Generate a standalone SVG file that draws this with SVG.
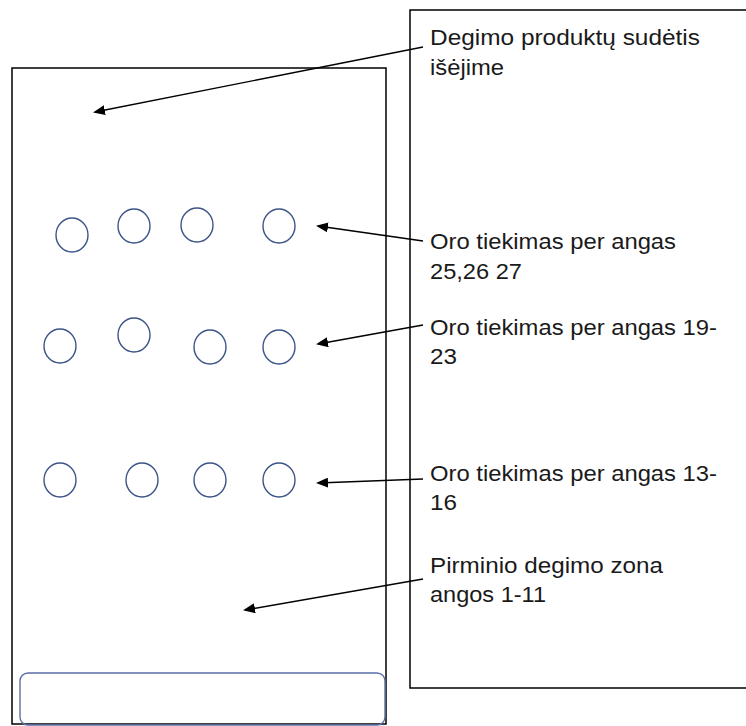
<svg xmlns="http://www.w3.org/2000/svg" width="746" height="726" viewBox="0 0 746 726">
<style>
.box{fill:none;stroke:#000;stroke-width:1.5}
.hole{fill:none;stroke:#3c5488;stroke-width:1.4}
.tray{fill:none;stroke:#5b6fa6;stroke-width:1.4}
.lbl{font-family:"Liberation Sans",Arial,sans-serif;font-size:22px;fill:#1a1a1a}
.con{stroke:#000;stroke-width:1.4;fill:none;marker-end:url(#ah)}
</style>
<defs>
<marker id="ah" markerWidth="12" markerHeight="10" refX="10" refY="5" orient="auto" markerUnits="userSpaceOnUse">
<path d="M0,0 L12,5 L0,10 Z" fill="#000"/>
</marker>
</defs>
<rect width="746" height="726" fill="#fff"/>
<g id="chamber">
<rect class="box" x="12" y="68" width="374" height="656"/>
<rect class="tray" x="20" y="673" width="365" height="52" rx="8"/>
</g>
<g id="holes-row1">
<ellipse class="hole" cx="72" cy="235" rx="16" ry="17"/>
<ellipse class="hole" cx="134" cy="226" rx="16" ry="17"/>
<ellipse class="hole" cx="197" cy="225" rx="16" ry="17"/>
<ellipse class="hole" cx="279" cy="226" rx="16" ry="17"/>
</g>
<g id="holes-row2">
<ellipse class="hole" cx="60" cy="346" rx="16" ry="17"/>
<ellipse class="hole" cx="134" cy="335" rx="16" ry="17"/>
<ellipse class="hole" cx="210" cy="347" rx="16" ry="17"/>
<ellipse class="hole" cx="279" cy="347" rx="16" ry="17"/>
</g>
<g id="holes-row3">
<ellipse class="hole" cx="60" cy="480" rx="16" ry="17"/>
<ellipse class="hole" cx="142" cy="480" rx="16" ry="17"/>
<ellipse class="hole" cx="210" cy="480" rx="16" ry="17"/>
<ellipse class="hole" cx="279" cy="480" rx="16" ry="17"/>
</g>
<g id="legend">
<rect class="box" x="410" y="10" width="345" height="678"/>
<text class="lbl" x="430" y="45" textLength="270" lengthAdjust="spacingAndGlyphs">Degimo produktų sudėtis</text>
<text class="lbl" x="430" y="75" textLength="74" lengthAdjust="spacingAndGlyphs">išėjime</text>
<text class="lbl" x="430" y="249" textLength="246" lengthAdjust="spacingAndGlyphs">Oro tiekimas per angas</text>
<text class="lbl" x="430" y="279" textLength="92" lengthAdjust="spacingAndGlyphs">25,26 27</text>
<text class="lbl" x="430" y="335" textLength="287" lengthAdjust="spacingAndGlyphs">Oro tiekimas per angas 19-</text>
<text class="lbl" x="430" y="364" textLength="27" lengthAdjust="spacingAndGlyphs">23</text>
<text class="lbl" x="430" y="481" textLength="287" lengthAdjust="spacingAndGlyphs">Oro tiekimas per angas 13-</text>
<text class="lbl" x="430" y="510" textLength="27" lengthAdjust="spacingAndGlyphs">16</text>
<text class="lbl" x="430" y="573" textLength="233" lengthAdjust="spacingAndGlyphs">Pirminio degimo zona</text>
<text class="lbl" x="430" y="602" textLength="116" lengthAdjust="spacingAndGlyphs">angos 1-11</text>
</g>
<g id="connectors">
<line class="con" x1="423" y1="47" x2="95" y2="112"/>
<line class="con" x1="423" y1="241" x2="318" y2="226"/>
<line class="con" x1="423" y1="325" x2="318" y2="344"/>
<line class="con" x1="423" y1="479" x2="318" y2="483"/>
<line class="con" x1="423" y1="579" x2="245" y2="610"/>
</g>
</svg>
